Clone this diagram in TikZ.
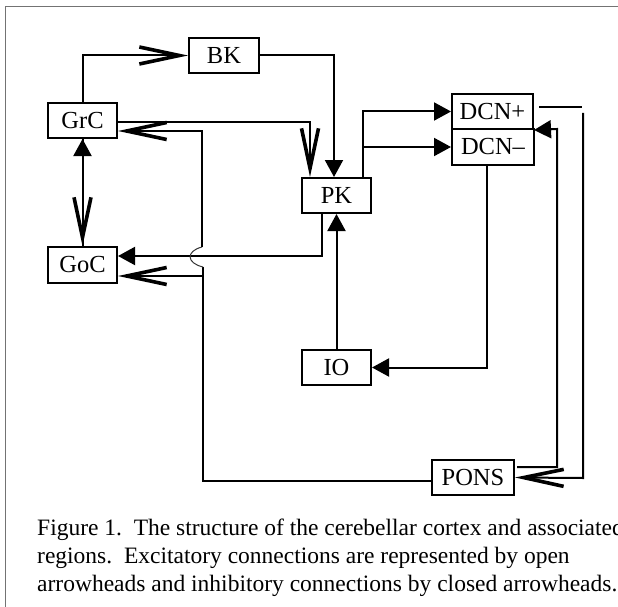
\documentclass[tikz,border=0pt]{standalone}
\usepackage{fontspec}
\setmainfont{Liberation Serif}
\usetikzlibrary{arrows.meta}
\tikzset{
  box/.style={draw, line width=2pt, minimum width=#1, minimum height=35pt, inner sep=0pt,
    font=\fontsize{24.5}{28}\selectfont},
  conn/.style={line width=2pt},
  exc/.style={conn, -{Straight Barb[length=40pt,width=17pt,line width=3.6pt]}},
  inh/.style={conn, -{Triangle[length=17pt,width=18pt]}},
  frameline/.style={draw=black!55, line width=1.5pt},
  jump/.style={line width=1pt, draw=black!80},
  captext/.style={anchor=base west, inner sep=0pt, font=\fontsize{23.5}{28}\selectfont}
}
\begin{document}
\begin{tikzpicture}[x=1pt, y=-1pt]
\useasboundingbox (0,0) rectangle (618,607);
\clip (0,0) rectangle (618,607);
% frame
\draw[frameline] (5.5,607) -- (5.5,6.5) -- (618,6.5);
% nodes
\node[box=70pt] (BK) at (224,55.5) {BK};
\node[box=69pt] (GrC) at (82.5,120.5) {GrC};
\node[box=69pt, minimum height=36pt] (GoC) at (82.5,265) {GoC};
\node[box=69pt] (PK) at (336.5,195.5) {PK};
\node[box=81pt] (DCNp) at (492.5,111.5) {DCN+};
\node[box=82pt, minimum height=36pt] (DCNm) at (493,147) {DCN–};
\node[box=69pt] (IO) at (336.5,367.5) {IO};
\node[box=82pt] (PONS) at (473,477.5) {PONS};
% helper coordinates
\coordinate (m1) at (203,481);
\coordinate (m2) at (203,267);
\coordinate (m3) at (202,247);
\coordinate (m4) at (202,131);
\coordinate (m5) at (203,276);
\coordinate (a1) at (539,107);
\coordinate (a2) at (582,107);
\coordinate (a3) at (583,113);
\coordinate (a4) at (583,478);
\coordinate (b1) at (517,467);
\coordinate (b2) at (557,467);
\coordinate (b3) at (557,129);
% connectors
\draw[exc] (GrC.north) |- (BK.west);
\draw[inh] (BK.east) -| ([xshift=-2.5pt]PK.north);
\draw[exc] ([yshift=-1.5pt]GrC.east) -| ([xshift=-26.5pt]PK.north);
\draw[inh] (GoC.north) -- (GrC.south);
\draw[exc] (GrC.south) -- (GoC.north);
\draw[inh] ([xshift=-14.5pt]PK.south) |- ([yshift=9pt]GoC.east);
% mossy fibres from PONS
\draw[conn] ([yshift=-3.5pt]PONS.west) -- (m1) -- (m2);
\draw[jump] (m2) .. controls (186,263) and (186,251) .. (m3);
\draw[exc] (m3) -- (m4) -- ([yshift=-10.5pt]GrC.east);
\draw[exc] (m5) -- ([yshift=-11pt]GoC.east);
% PK to DCN
\draw[inh] ([xshift=26.5pt]PK.north) |- (DCNp.west);
\draw[inh] ([xshift=26.5pt]PK.north) |- (DCNm.west);
% DCN- to IO, IO to PK
\draw[inh] ([xshift=-6pt]DCNm.south) |- (IO.east);
\draw[inh] (IO.north) -- (PK.south);
% DCN+ to PONS
\draw[conn] (a1) -- (a2);
\draw[exc] (a3) -- (a4) -- (PONS.east);
% PONS to DCN
\draw[inh] (b1) -- (b2) -- (b3) -- (DCNp.south east);
% caption
\node[captext] (c1) at (37,535) {Figure 1.\ \ The structure of the cerebellar cortex and associated};
\node[captext] (c2) at (37,563) {regions.\ \ Excitatory connections are represented by open};
\node[captext] (c3) at (37,591) {arrowheads and inhibitory connections by closed arrowheads.};
\end{tikzpicture}
\end{document}
